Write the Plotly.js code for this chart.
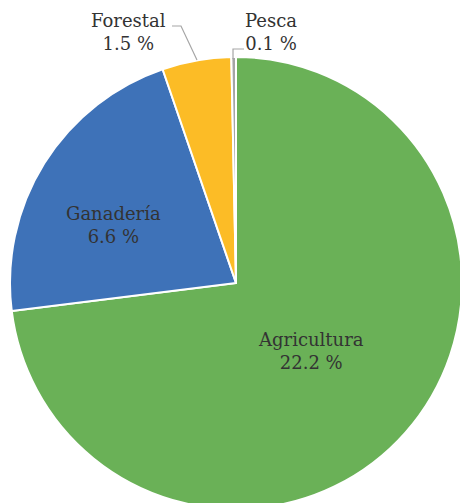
<!DOCTYPE html>
<html>
<head>
<meta charset="utf-8">
<script src="https://cdn.plot.ly/plotly-3.0.1.min.js"></script>
<style>
html,body{margin:0;padding:0;overflow:hidden;background:#fff;}
#chart{width:470px;height:515px;}
</style>
</head>
<body>
<div id="chart"></div>
<script>
const categories = ['Agricultura', 'Ganadería', 'Forestal', 'Pesca'];
const values = [22.2, 6.6, 1.5, 0.1];
const valueLabels = ['22.2 %', '6.6 %', '1.5 %', '0.1 %'];
const colors = ['#6ab157', '#3e72b8', '#fcbc26', '#a5a5a5'];

// label anchor positions (paper coords of the pie's domain) — layout only
const labelPos = [[0.666, 0.350], [0.228, 0.628], [0.263, 1.055], [0.577, 1.055]];

const trace = {
  type: 'pie',
  labels: categories,
  values: values,
  sort: false,
  direction: 'clockwise',
  rotation: 0,
  marker: {colors: colors, line: {color: '#ffffff', width: 2}},
  textinfo: 'none',
  hoverinfo: 'none',
  showlegend: false,
  automargin: false
};

const fontSpec = {family: 'DejaVu Serif', size: 18, color: '#333333'};

const annotations = categories.map((c, i) => ({
  xref: 'paper', yref: 'paper',
  x: labelPos[i][0], y: labelPos[i][1],
  xanchor: 'center', yanchor: 'middle',
  text: c + '<br>' + valueLabels[i],
  showarrow: false,
  font: fontSpec,
  align: 'center'
}));

const shapes = [
  {type: 'path', xref: 'paper', yref: 'paper',
   path: 'M 0.3584 1.0686 L 0.3783 1.0686 L 0.4137 0.9934',
   line: {color: '#a6a6a6', width: 1.2}},
  {type: 'path', xref: 'paper', yref: 'paper',
   path: 'M 0.5177 1.0177 L 0.4934 1.0177 L 0.4934 0.9956',
   line: {color: '#a6a6a6', width: 1.2}}
];

const layout = {
  width: 470,
  height: 515,
  margin: {l: 10, r: 8, t: 57, b: 6},
  paper_bgcolor: '#ffffff',
  plot_bgcolor: '#ffffff',
  showlegend: false,
  font: fontSpec,
  annotations: annotations,
  shapes: shapes
};

Plotly.newPlot('chart', [trace], layout, {staticPlot: true, displayModeBar: false});
</script>
</body>
</html>
